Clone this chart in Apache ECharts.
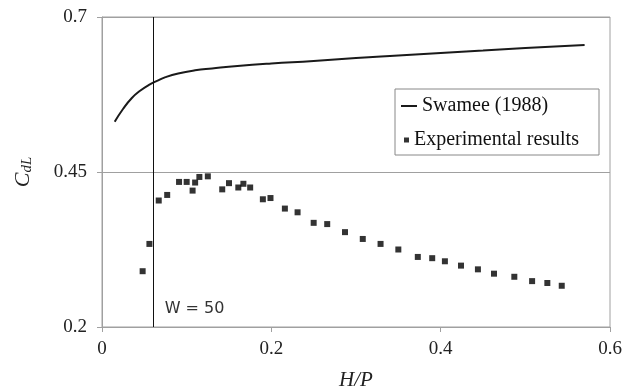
<!DOCTYPE html>
<html>
<head>
<meta charset="utf-8">
<script src="https://cdn.jsdelivr.net/npm/echarts@6/dist/echarts.min.js"></script>
<style>
  html, body {margin: 0; padding: 0; background: #fff;}
  #chart {width: 638px; height: 392px;}
</style>
</head>
<body>
<div id="chart"></div>
<script>
// Swamee (1988) curve
const swameeX = [0.015, 0.025, 0.035, 0.045, 0.055, 0.065, 0.075, 0.09, 0.11, 0.13, 0.16, 0.2, 0.25, 0.3, 0.35, 0.4, 0.45, 0.5, 0.57];
const swameeY = [0.531, 0.552, 0.569, 0.581, 0.590, 0.597, 0.603, 0.609, 0.614, 0.617, 0.621, 0.625, 0.629, 0.634, 0.638, 0.642, 0.646, 0.650, 0.655];

// experimental points
const expX = [0.048, 0.056, 0.067, 0.077, 0.091, 0.100, 0.107, 0.110, 0.115, 0.125, 0.142, 0.150, 0.161, 0.167, 0.175, 0.190, 0.199, 0.216,
  0.231, 0.250, 0.266, 0.287, 0.308, 0.329, 0.350, 0.373, 0.390, 0.405, 0.424, 0.444, 0.463, 0.487, 0.508, 0.526, 0.543];
const expY = [0.290, 0.334, 0.404, 0.413, 0.434, 0.434, 0.420, 0.433, 0.442, 0.443, 0.422, 0.432, 0.425, 0.431, 0.425, 0.406, 0.408, 0.391,
  0.385, 0.368, 0.366, 0.353, 0.342, 0.334, 0.325, 0.313, 0.311, 0.306, 0.299, 0.293, 0.286, 0.281, 0.274, 0.271, 0.2665];

const xTicks = [0, 0.6, 0.2];        // min, max, step
const yTicks = [0.2, 0.7, 0.25];
const wLine = 0.061;
const wLabel = 'W = 50';

const chart = echarts.init(document.getElementById('chart'));
const grey = '#a0a0a0';
const serif = '"Liberation Serif", "Times New Roman", serif';

chart.setOption({
  animation: false,
  grid: {left: 102, top: 17, right: 28, bottom: 65, show: true, borderColor: grey, borderWidth: 1, outerBoundsMode: 'none'},
  xAxis: {
    type: 'value',
    min: xTicks[0], max: xTicks[1], interval: xTicks[2],
    name: 'H/P',
    nameLocation: 'middle',
    nameGap: 43,
    nameTextStyle: {fontFamily: serif, fontStyle: 'italic', fontSize: 21, color: '#222'},
    axisLine: {lineStyle: {color: grey}},
    axisTick: {show: true, length: 5, lineStyle: {color: grey}},
    axisLabel: {fontFamily: serif, fontSize: 19, color: '#222', margin: 13},
    splitLine: {show: false}
  },
  yAxis: {
    type: 'value',
    min: yTicks[0], max: yTicks[1], interval: yTicks[2],
    name: '{c|C}{s|dL}',
    nameLocation: 'middle',
    nameGap: 67,
    nameRotate: 90,
    nameTextStyle: {
      rich: {
        c: {fontFamily: serif, fontStyle: 'italic', fontSize: 22, color: '#222'},
        s: {fontFamily: serif, fontStyle: 'italic', fontSize: 15, color: '#222', padding: [8, 0, 0, 0]}
      }
    },
    axisLine: {show: true, lineStyle: {color: grey}},
    axisTick: {show: true, length: 5, lineStyle: {color: grey}},
    axisLabel: {fontFamily: serif, fontSize: 19, color: '#222', margin: 15},
    splitLine: {show: true, lineStyle: {color: grey}}
  },
  legend: [
    {
      left: 401, top: 96, padding: 0,
      itemWidth: 16, itemHeight: 2,
      data: [{name: 'Swamee (1988)', icon: 'rect'}],
      textStyle: {fontFamily: serif, fontSize: 20, color: '#111'}
    },
    {
      left: 404, top: 130, padding: 0,
      itemWidth: 5, itemHeight: 5,
      data: [{name: 'Experimental results', icon: 'rect'}],
      textStyle: {fontFamily: serif, fontSize: 20, color: '#111'}
    }
  ],
  series: [
    {
      name: 'Swamee (1988)',
      type: 'line',
      smooth: true,
      symbol: 'none',
      lineStyle: {color: '#1a1a1a', width: 2},
      itemStyle: {color: '#1a1a1a'},
      data: swameeX.map((x, i) => [x, swameeY[i]]),
      markLine: {
        silent: true,
        symbol: 'none',
        label: {show: false},
        lineStyle: {color: '#111', width: 1, type: 'solid'},
        data: [{xAxis: wLine}]
      }
    },
    {
      name: 'Experimental results',
      type: 'scatter',
      symbol: 'rect',
      symbolSize: 6,
      itemStyle: {color: '#000'},
      data: expX.map((x, i) => [x, expY[i]])
    }
  ]
});

const wPos = chart.convertToPixel({gridIndex: 0}, [wLine, yTicks[0]]);
chart.setOption({
  graphic: [
    {
      type: 'rect', z: 3,
      shape: {x: 395, y: 89, width: 204, height: 66},
      style: {fill: '#fff', stroke: '#888', lineWidth: 1}
    },
    {
      type: 'text', z: 5,
      x: wPos[0] + 11, y: wPos[1] - 18,
      style: {text: wLabel, fontFamily: '"DejaVu Sans", sans-serif', fontSize: 16, fill: '#333', verticalAlign: 'middle'}
    }
  ]
});
</script>
</body>
</html>
